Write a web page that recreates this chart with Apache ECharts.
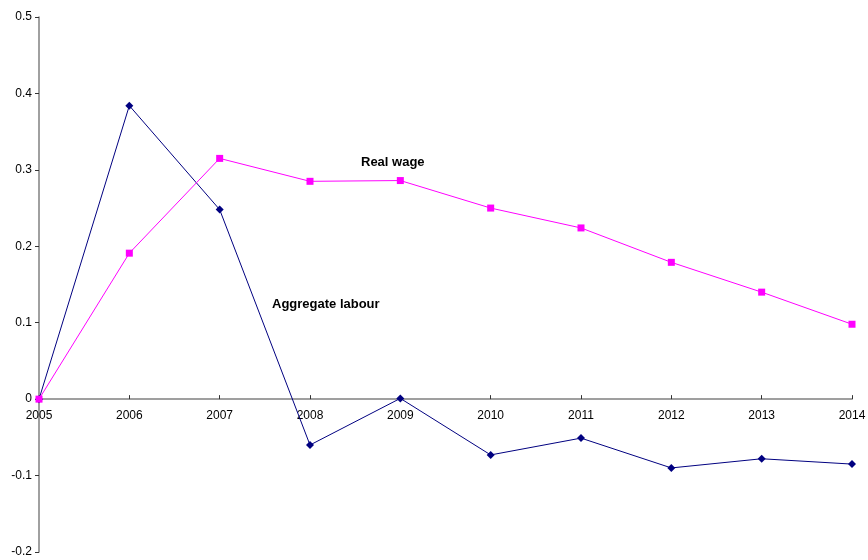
<!DOCTYPE html>
<html>
<head>
<meta charset="utf-8">
<script src="https://cdn.jsdelivr.net/npm/echarts@6/dist/echarts.min.js"></script>
<style>
  html, body { margin: 0; padding: 0; background: #fff; }
  #chart { width: 868px; height: 560px; }
</style>
</head>
<body>
<div id="chart"></div>
<script>
var years = ['2005', '2006', '2007', '2008', '2009', '2010', '2011', '2012', '2013', '2014'];
var aggregateLabour = [0, 0.384, 0.248, -0.060, 0.001, -0.073, -0.051, -0.090, -0.078, -0.085];
var realWage = [0, 0.191, 0.315, 0.285, 0.286, 0.250, 0.224, 0.179, 0.140, 0.098];
var yTicks = [-0.2, -0.1, 0, 0.1, 0.2, 0.3, 0.4, 0.5];

var chart = echarts.init(document.getElementById('chart'));
var font = 'Liberation Sans, Arial, sans-serif';

// x axis sits on zero: 0.2 of the 0.7 range above the bottom
var gridTop = 17, gridBottom = 8;
var plotH = 560 - gridTop - gridBottom;
var zeroOffset = -plotH * (0 - yTicks[0]) / (yTicks[yTicks.length - 1] - yTicks[0]);

var option = {
  animation: false,
  grid: { left: 39, right: 16, top: gridTop, bottom: gridBottom, containLabel: false, outerBoundsMode: 'none' },
  xAxis: {
    type: 'category',
    data: years,
    boundaryGap: false,
    position: 'bottom',
    offset: zeroOffset,
    axisLine: { onZero: false, lineStyle: { color: '#808080', width: 1.5 } },
    axisTick: { inside: true, length: 4, lineStyle: { color: '#333' } },
    axisLabel: { color: '#000', fontFamily: font, fontSize: 12, margin: 11 },
    splitLine: { show: false }
  },
  yAxis: {
    type: 'value',
    min: yTicks[0],
    max: yTicks[yTicks.length - 1],
    interval: 0.1,
    axisLine: { show: true, onZero: false, lineStyle: { color: '#808080', width: 1.5 } },
    axisTick: { show: true, length: 4, lineStyle: { color: '#333' } },
    axisLabel: {
      color: '#000', fontFamily: font, fontSize: 12, margin: 7,
      formatter: function (v) { return String(Math.round(v * 10) / 10); }
    },
    splitLine: { show: false }
  },
  series: [
    {
      name: 'Aggregate labour',
      type: 'line',
      data: aggregateLabour,
      symbol: 'diamond',
      symbolSize: 8,
      lineStyle: { color: '#000080', width: 1 },
      itemStyle: { color: '#000080' },
      z: 3
    },
    {
      name: 'Real wage',
      type: 'line',
      data: realWage,
      symbol: 'rect',
      symbolSize: 7,
      lineStyle: { color: '#FF00FF', width: 1 },
      itemStyle: { color: '#FF00FF' },
      z: 4
    }
  ],
  graphic: [
    {
      type: 'text', left: 361, top: 156,
      style: { text: 'Real wage', font: 'bold 13px ' + font, fill: '#000' }
    },
    {
      type: 'text', left: 272, top: 298,
      style: { text: 'Aggregate labour', font: 'bold 13px ' + font, fill: '#000' }
    }
  ]
};

chart.setOption(option);
</script>
</body>
</html>
